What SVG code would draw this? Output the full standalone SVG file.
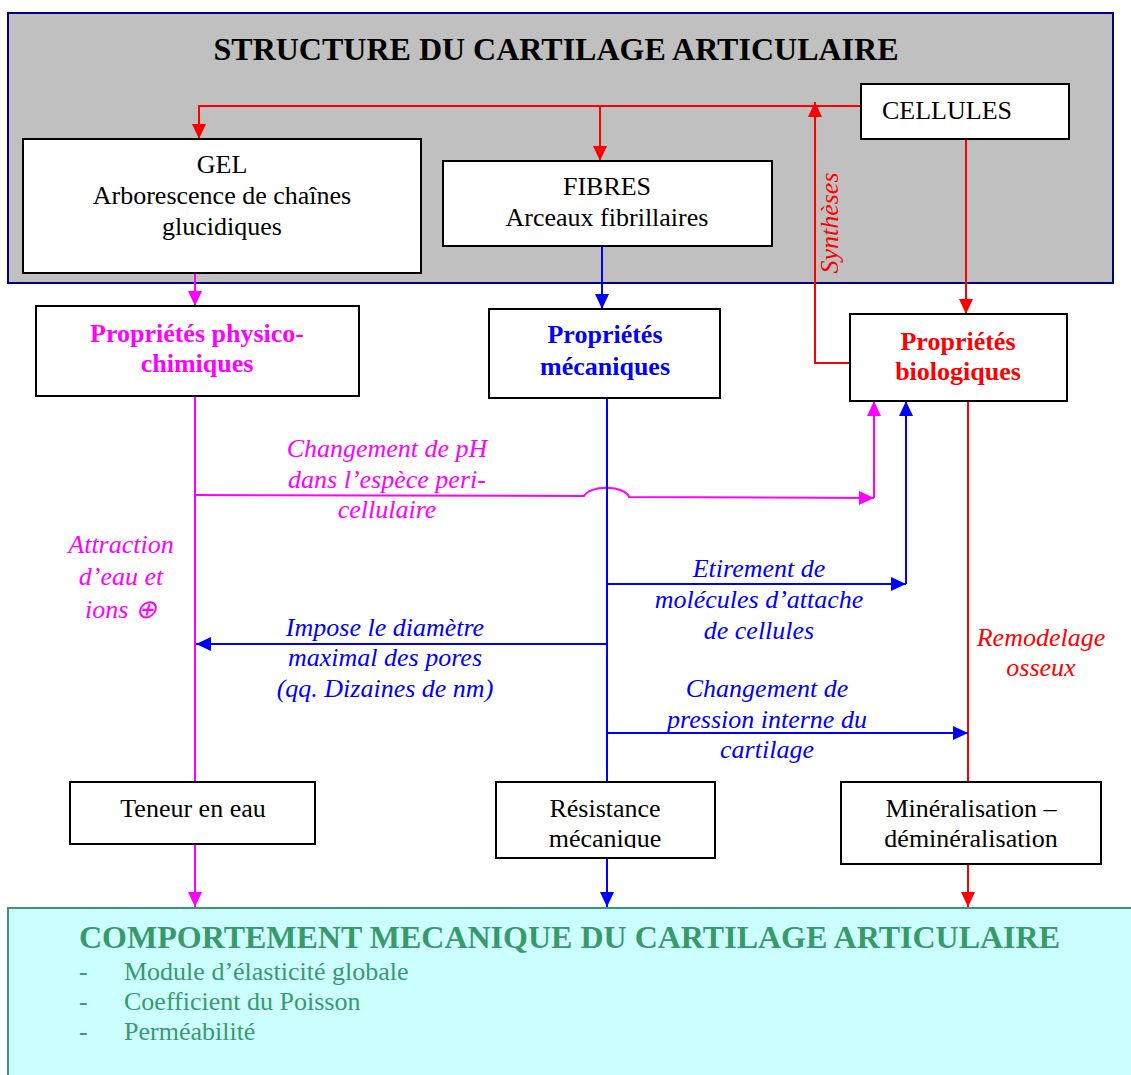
<svg xmlns="http://www.w3.org/2000/svg" width="1131" height="1075" viewBox="0 0 1131 1075">
<style>
text{font-family:"Liberation Serif","Times New Roman",serif;font-size:26px}
.c{text-anchor:middle}
.b{font-weight:bold}
.i{font-style:italic}
.box{fill:#fff;stroke:#000;stroke-width:2}
.ln{fill:none;stroke-width:2}
.r{stroke:#f00}.m{stroke:#f0f}.bl{stroke:#00f}
.tr{fill:#f00}.tm{fill:#f0f}.tb{fill:#00f}.tg{fill:#389a6a}
</style>
<defs>
<marker id="ar" markerUnits="userSpaceOnUse" markerWidth="15" markerHeight="14" refX="15" refY="7" orient="auto"><path d="M0,0 L15,7 L0,14 z" fill="#f00"/></marker>
<marker id="am" markerUnits="userSpaceOnUse" markerWidth="15" markerHeight="14" refX="15" refY="7" orient="auto"><path d="M0,0 L15,7 L0,14 z" fill="#f0f"/></marker>
<marker id="ab" markerUnits="userSpaceOnUse" markerWidth="15" markerHeight="14" refX="15" refY="7" orient="auto"><path d="M0,0 L15,7 L0,14 z" fill="#00f"/></marker>
<clipPath id="clipRes"><rect x="497" y="783" width="217" height="65"/></clipPath>
</defs>
<rect width="1131" height="1075" fill="#fff"/>
<g id="structure">
<rect x="8" y="13" width="1105" height="270" fill="#c0c0c0" stroke="#000080" stroke-width="2"/>
<text x="556" y="60" class="c b" style="font-size:32px">STRUCTURE DU CARTILAGE ARTICULAIRE</text>
</g>
<g id="comportement">
<rect x="8" y="908" width="1130" height="180" fill="#ccffff" stroke="#389a6a" stroke-width="2"/>
<text x="79" y="948" class="b tg" style="font-size:32px">COMPORTEMENT MECANIQUE DU CARTILAGE ARTICULAIRE</text>
<text x="79" y="980" class="tg">-</text><text x="124" y="980" class="tg">Module d’élasticité globale</text>
<text x="79" y="1010" class="tg">-</text><text x="124" y="1010" class="tg">Coefficient du Poisson</text>
<text x="79" y="1040" class="tg">-</text><text x="124" y="1040" class="tg">Perméabilité</text>
</g>
<g id="connectors">
<path class="ln r" d="M861,106 H199 V139" marker-end="url(#ar)"/>
<path class="ln r" d="M600,106 V161" marker-end="url(#ar)"/>
<path class="ln r" d="M850,363 H815 V102" marker-end="url(#ar)"/>
<path class="ln r" d="M966,139 V314" marker-end="url(#ar)"/>
<path class="ln r" d="M968,401 V907" marker-end="url(#ar)"/>
<path class="ln m" d="M195,273 V306" marker-end="url(#am)"/>
<path class="ln m" d="M195,396 V907" marker-end="url(#am)"/>
<path class="ln m" d="M195,495 L584,496 A23,11 0 0 1 629,497 L874,498" marker-end="url(#am)"/>
<path class="ln m" d="M874,498 V401" marker-end="url(#am)"/>
<path class="ln bl" d="M602,246 V309" marker-end="url(#ab)"/>
<path class="ln bl" d="M607,398 V907" marker-end="url(#ab)"/>
<path class="ln bl" d="M607,584 H906" marker-end="url(#ab)"/>
<path class="ln bl" d="M906,584 V401" marker-end="url(#ab)"/>
<path class="ln bl" d="M607,644 H196" marker-end="url(#ab)"/>
<path class="ln bl" d="M607,733 H968" marker-end="url(#ab)"/>
<text transform="translate(838,223) rotate(-90)" class="c i tr">Synthèses</text>
<text x="387" y="457" class="c i tm">Changement de pH</text>
<text x="387" y="488" class="c i tm">dans l’espèce peri-</text>
<text x="387" y="518" class="c i tm">cellulaire</text>
<text x="121" y="553" class="c i tm">Attraction</text>
<text x="121" y="585" class="c i tm">d’eau et</text>
<text x="121" y="618" class="c i tm">ions ⊕</text>
<text x="759" y="577" class="c i tb">Etirement de</text>
<text x="759" y="608" class="c i tb">molécules d’attache</text>
<text x="759" y="639" class="c i tb">de cellules</text>
<text x="385" y="636" class="c i tb">Impose le diamètre</text>
<text x="385" y="666" class="c i tb">maximal des pores</text>
<text x="385" y="697" class="c i tb">(qq. Dizaines de nm)</text>
<text x="767" y="697" class="c i tb">Changement de</text>
<text x="767" y="728" class="c i tb">pression interne du</text>
<text x="767" y="758" class="c i tb">cartilage</text>
<text x="1041" y="646" class="c i tr">Remodelage</text>
<text x="1041" y="676" class="c i tr">osseux</text>
</g>
<g id="cellules">
<rect class="box" x="861" y="84" width="208" height="55"/>
<text x="882" y="119">CELLULES</text>
</g>
<g id="gel">
<rect class="box" x="23" y="139" width="398" height="134"/>
<text x="222" y="173" class="c">GEL</text>
<text x="222" y="204" class="c">Arborescence de chaînes</text>
<text x="222" y="235" class="c">glucidiques</text>
</g>
<g id="fibres">
<rect class="box" x="443" y="161" width="329" height="85"/>
<text x="607" y="195" class="c">FIBRES</text>
<text x="607" y="226" class="c">Arceaux fibrillaires</text>
</g>
<g id="physico">
<rect class="box" x="36" y="306" width="323" height="90"/>
<text x="197" y="342" class="c b tm">Propriétés physico-</text>
<text x="197" y="372" class="c b tm">chimiques</text>
</g>
<g id="mecaniques">
<rect class="box" x="489" y="309" width="231" height="89"/>
<text x="605" y="343" class="c b tb">Propriétés</text>
<text x="605" y="375" class="c b tb">mécaniques</text>
</g>
<g id="biologiques">
<rect class="box" x="850" y="314" width="217" height="87"/>
<text x="958" y="350" class="c b tr">Propriétés</text>
<text x="958" y="380" class="c b tr">biologiques</text>
</g>
<g id="teneur">
<rect class="box" x="70" y="782" width="245" height="62"/>
<text x="193" y="817" class="c">Teneur en eau</text>
</g>
<g id="resistance">
<rect class="box" x="496" y="782" width="219" height="76"/>
<g clip-path="url(#clipRes)">
<text x="605" y="817" class="c">Résistance</text>
<text x="605" y="847" class="c">mécanique</text>
</g>
</g>
<g id="mineralisation">
<rect class="box" x="841" y="782" width="260" height="82"/>
<text x="971" y="817" class="c">Minéralisation –</text>
<text x="971" y="847" class="c">déminéralisation</text>
</g>
</svg>
